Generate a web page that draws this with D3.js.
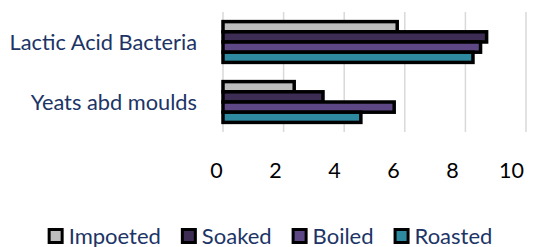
<!DOCTYPE html>
<html><head><meta charset="utf-8">
<script src="https://cdn.jsdelivr.net/npm/d3@7/dist/d3.min.js"></script>
<style>body{margin:0;background:#fff;overflow:hidden}svg{display:block}</style>
</head><body>
<script>
const categories = ["Lactic Acid Bacteria", "Yeats abd moulds"];
const seriesNames = ["Impoeted", "Soaked", "Boiled", "Roasted"];
const seriesColors = ["#bdbdbd", "#3d2c54", "#5e4785", "#2e8aa0"];
const impoeted = [5.75, 2.35];
const soaked = [8.7, 3.3];
const boiled = [8.5, 5.65];
const roasted = [8.25, 4.55];
const tickValues = [0, 2, 4, 6, 8, 10];

const seriesValues = [impoeted, soaked, boiled, roasted];
const W = 538, H = 247;
const font = "Lato, 'Open Sans', sans-serif";
const textColor = "#1c3466";

const svg = d3.select("body").append("svg").attr("width", W).attr("height", H);

const x = d3.scaleLinear().domain([0, 10]).range([223, 526]);
const y = d3.scaleBand().domain(categories).range([12, 132]).paddingInner(0.32).paddingOuter(0.16);
const ySub = d3.scaleBand().domain(seriesNames).range([0, y.bandwidth()]);

// gridlines
svg.append("g").selectAll("line").data(tickValues).join("line")
  .attr("x1", d => x(d)).attr("x2", d => x(d))
  .attr("y1", 12).attr("y2", 132)
  .attr("stroke", "#d9d9d9").attr("stroke-width", 1.5);

// bars
const data = [];
categories.forEach((c, ci) => seriesNames.forEach((s, si) => data.push({c, s, si, v: seriesValues[si][ci]})));
svg.append("g").selectAll("rect").data(data).join("rect")
  .attr("x", x(0))
  .attr("y", d => y(d.c) + ySub(d.s))
  .attr("width", d => x(d.v) - x(0))
  .attr("height", ySub.bandwidth())
  .attr("fill", d => seriesColors[d.si])
  .attr("stroke", "#000").attr("stroke-width", 3.5);

// category labels
const yAxis = d3.axisLeft(y).tickSize(0).tickPadding(0);
const gy = svg.append("g").attr("transform", "translate(197,0)").call(yAxis);
gy.select(".domain").remove();
gy.selectAll("text").attr("font-family", font).attr("font-size", 21.8).attr("fill", textColor).attr("dy", "0.35em");

// x tick labels
const xLab = x.copy().range([216, 511]);
const xAxis = d3.axisBottom(xLab).tickValues(tickValues).tickSize(0).tickPadding(0);
const gx = svg.append("g").attr("transform", "translate(0,163)").call(xAxis);
gx.select(".domain").remove();
gx.selectAll("text").attr("font-family", font).attr("font-size", 21.5).attr("fill", "#000");

// legend
const lg = svg.append("g");
const items = lg.selectAll("g").data(seriesNames).join("g");
items.append("rect").attr("x", 1.5).attr("y", 229.5).attr("width", 13).attr("height", 13)
  .attr("fill", (d, i) => seriesColors[i]).attr("stroke", "#000").attr("stroke-width", 3);
items.append("text").attr("x", 21).attr("y", 243.5).text(d => d)
  .attr("font-family", font).attr("font-size", 22).attr("fill", textColor);
let cx = 0;
const pos = [];
items.each(function() {
  const tw = d3.select(this).select("text").node().getComputedTextLength();
  pos.push(cx);
  cx += 21 + tw + 20;
});
const total = cx - 20;
const start = 270 - total / 2;
items.attr("transform", (d, i) => `translate(${start + pos[i]},0)`);
</script>
</body></html>
